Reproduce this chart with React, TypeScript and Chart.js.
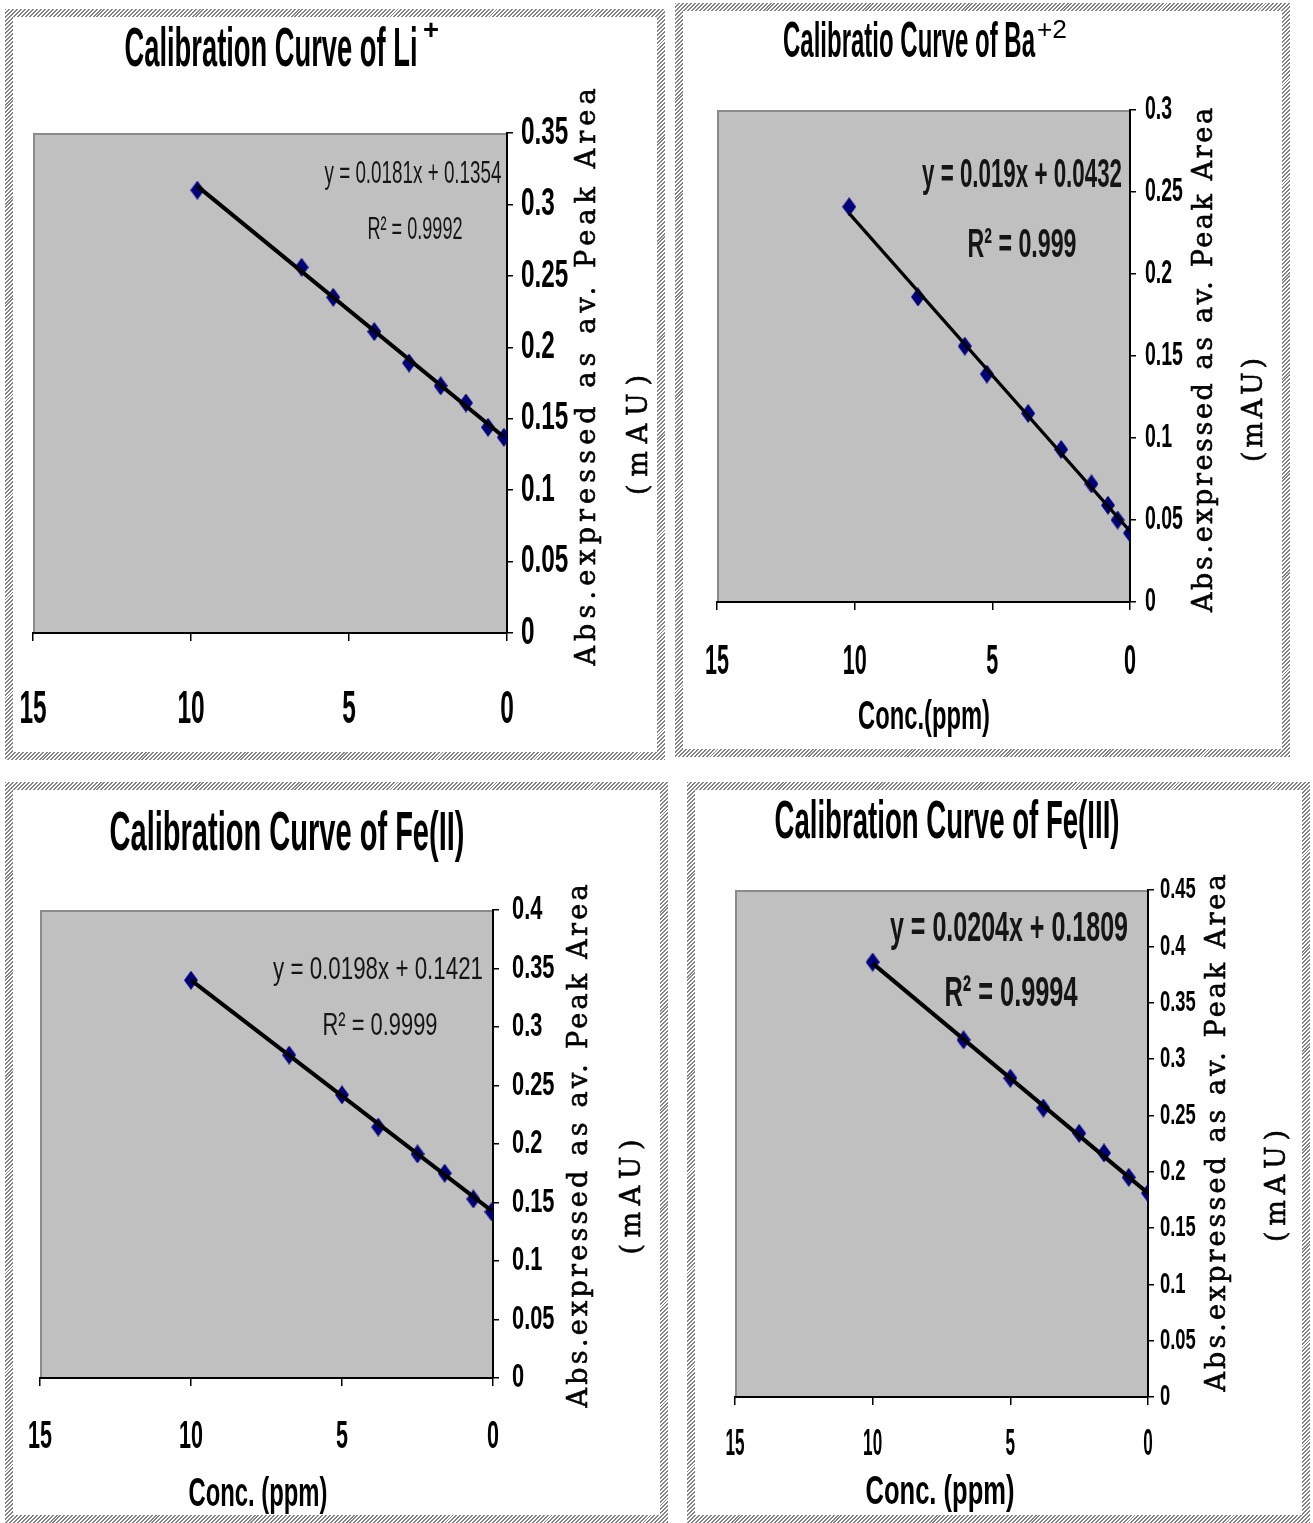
import React, { useEffect, useRef } from 'react';
import { Chart, registerables } from 'chart.js';

Chart.register(...registerables);

// ---------------- DATA ----------------
const liConc = [9.8, 6.5, 5.5, 4.2, 3.1, 2.1, 1.3, 0.6, 0.1];
const liAbs = [0.31, 0.256, 0.235, 0.211, 0.189, 0.173, 0.161, 0.144, 0.137];

const baConc = [10.2, 7.7, 6.0, 5.2, 3.7, 2.5, 1.4, 0.8, 0.45, 0];
const baAbs = [0.241, 0.186, 0.156, 0.139, 0.115, 0.093, 0.072, 0.059, 0.05, 0.042];

const fe2Conc = [10, 6.75, 5, 3.8, 2.5, 1.6, 0.65, 0.05];
const fe2Abs = [0.34, 0.276, 0.242, 0.2145, 0.1915, 0.175, 0.153, 0.142];

const fe3Conc = [10, 6.7, 5, 3.8, 2.5, 1.6, 0.7, 0];
const fe3Abs = [0.386, 0.317, 0.283, 0.2565, 0.234, 0.2166, 0.195, 0.181];

const slopes = [0.0181, 0.019, 0.0198, 0.0204];
const intercepts = [0.1354, 0.0432, 0.1421, 0.1809];
const equationLabels = ['y = 0.0181x + 0.1354', 'y = 0.019x + 0.0432', 'y = 0.0198x + 0.1421', 'y = 0.0204x + 0.1809'];
const r2Labels = ['R\u00B2 = 0.9992', 'R\u00B2 = 0.999', 'R\u00B2 = 0.9999', 'R\u00B2 = 0.9994'];
const titleMain = ['Calibration Curve of Li', 'Calibratio Curve of Ba', 'Calibration Curve of Fe(II)', 'Calibration Curve of Fe(III)'];
const titleSup = ['+', '+2', '', ''];
const xTitles = ['', 'Conc.(ppm)', 'Conc. (ppm)', 'Conc. (ppm)'];
const yTitleLines = ['Abs.expressed as av. Peak Area', '(mAU)'];
const yMaxes = [0.35, 0.3, 0.4, 0.45];
const yStep = 0.05;
const xMin = 0;
const xMax = 15;
const xStep = 5;

const concSeries = [liConc, baConc, fe2Conc, fe3Conc];
const absSeries = [liAbs, baAbs, fe2Abs, fe3Abs];

// ---------------- LAYOUT (page coords) ----------------
type TextSpec = { x: number; y: number; w: number; font: string; sy?: number };
type Layout = {
  box: [number, number, number, number];
  plot: [number, number, number, number];
  yTickFont: number; yTickPad: number; ySx: number; ySy: number;
  xTickFont: number; xTickPad: number; xSx: number; xSy: number;
  title: TextSpec; sup?: TextSpec;
  eq: TextSpec; r2: TextSpec;
  yt1: TextSpec; yt2: TextSpec;
  xt?: TextSpec;
  lineW: number;
};

const SANS = '"Liberation Sans", Arial, sans-serif';
const SERIF = '"DejaVu Serif", "Liberation Serif", serif';
const YT_FONT = `27px ${SERIF}`;

const layouts: Layout[] = [
  {
    box: [5, 9, 665, 760], plot: [33, 133, 507, 633],
    yTickFont: 32, yTickPad: 8, ySx: 0.76, ySy: 1.22,
    xTickFont: 34, xTickPad: 52, xSx: 0.72, xSy: 1.38,
    title: { x: 271, y: 51, w: 293, font: `bold 50px ${SANS}`, sy: 1.1 },
    sup: { x: 431, y: 31, w: 16, font: `bold 28px ${SANS}` },
    eq: { x: 413, y: 174, w: 177, font: `30px ${SANS}`, sy: 1.05 },
    r2: { x: 415, y: 230, w: 95, font: `30px ${SANS}`, sy: 1.05 },
    yt1: { x: 588, y: 377, w: 577, font: YT_FONT },
    yt2: { x: 640, y: 435, w: 120, font: YT_FONT },
    lineW: 4,
  },
  {
    box: [675, 3, 1290, 757], plot: [717, 110, 1130, 602],
    yTickFont: 26, yTickPad: 9, ySx: 0.75, ySy: 1.3,
    xTickFont: 30, xTickPad: 37, xSx: 0.72, xSy: 1.4,
    title: { x: 909, y: 43, w: 252, font: `bold 46px ${SANS}`, sy: 1.1 },
    sup: { x: 1052, y: 31, w: 30, font: `26px ${SANS}` },
    eq: { x: 1022, y: 176, w: 200, font: `bold 38px ${SANS}`, sy: 1.08 },
    r2: { x: 1022, y: 246, w: 109, font: `bold 38px ${SANS}`, sy: 1.08 },
    yt1: { x: 1205, y: 360, w: 504, font: YT_FONT },
    yt2: { x: 1255, y: 410, w: 104, font: YT_FONT },
    xt: { x: 924, y: 718, w: 132, font: `bold 36px ${SANS}`, sy: 1.15 },
    lineW: 3.2,
  },
  {
    box: [5, 782, 668, 1523], plot: [40, 910, 493, 1378],
    yTickFont: 26, yTickPad: 13, ySx: 0.84, ySy: 1.3,
    xTickFont: 28, xTickPad: 37, xSx: 0.77, xSy: 1.4,
    title: { x: 287, y: 835, w: 355, font: `bold 50px ${SANS}`, sy: 1.1 },
    eq: { x: 378, y: 970, w: 210, font: `30px ${SANS}`, sy: 1.05 },
    r2: { x: 380, y: 1026, w: 115, font: `30px ${SANS}`, sy: 1.05 },
    yt1: { x: 580, y: 1146, w: 523, font: YT_FONT },
    yt2: { x: 633, y: 1197, w: 115, font: YT_FONT },
    xt: { x: 258, y: 1495, w: 139, font: `bold 36px ${SANS}`, sy: 1.15 },
    lineW: 4,
  },
  {
    box: [687, 782, 1310, 1523], plot: [735, 890, 1148, 1397],
    yTickFont: 23, yTickPad: 6, ySx: 0.8, ySy: 1.3,
    xTickFont: 26, xTickPad: 27, xSx: 0.66, xSy: 1.4,
    title: { x: 947, y: 823, w: 345, font: `bold 48px ${SANS}`, sy: 1.1 },
    eq: { x: 1009, y: 929, w: 238, font: `bold 40px ${SANS}`, sy: 1.08 },
    r2: { x: 1011, y: 994, w: 133, font: `bold 40px ${SANS}`, sy: 1.08 },
    yt1: { x: 1218, y: 1133, w: 517, font: YT_FONT },
    yt2: { x: 1278, y: 1186, w: 112, font: YT_FONT },
    xt: { x: 940, y: 1493, w: 149, font: `bold 36px ${SANS}`, sy: 1.15 },
    lineW: 4,
  },
];

const HATCH = 8;

function drawFit(
  ctx: CanvasRenderingContext2D, text: string, spec: TextSpec, ox: number, oy: number,
  opts: { rot?: number; spacing?: boolean; color?: string; stroke?: number } = {}
) {
  if (!text) return;
  ctx.save();
  ctx.translate(spec.x - ox, spec.y - oy);
  if (opts.rot) ctx.rotate(opts.rot);
  ctx.font = spec.font;
  ctx.fillStyle = opts.color || '#000';
  ctx.strokeStyle = opts.color || '#000';
  ctx.textBaseline = 'middle';
  const anyCtx = ctx as any;
  if ('letterSpacing' in anyCtx) anyCtx.letterSpacing = '0px';
  const m = ctx.measureText(text).width;
  if (opts.spacing && 'letterSpacing' in anyCtx && text.length > 1) {
    const ls = (spec.w - m) / (text.length - 1);
    anyCtx.letterSpacing = ls + 'px';
    ctx.textAlign = 'left';
    ctx.fillText(text, -spec.w / 2, 0);
    if (opts.stroke) {
      ctx.lineWidth = opts.stroke;
      ctx.strokeText(text, -spec.w / 2, 0);
    }
  } else {
    ctx.scale(spec.w / m, spec.sy || 1);
    ctx.textAlign = 'center';
    ctx.fillText(text, 0, 0);
  }
  ctx.restore();
}

function makeMarker(): HTMLCanvasElement {
  const c = document.createElement('canvas');
  c.width = 14;
  c.height = 19;
  const g = c.getContext('2d')!;
  g.fillStyle = '#00007a';
  g.beginPath();
  g.moveTo(7, 0);
  g.lineTo(14, 9.5);
  g.lineTo(7, 19);
  g.lineTo(0, 9.5);
  g.closePath();
  g.fill();
  return c;
}

function fmtY(v: number | string) {
  const n = Number(v);
  return parseFloat(n.toFixed(2)).toString();
}

function Panel({ idx }: { idx: number }) {
  const ref = useRef<HTMLCanvasElement>(null);
  const L = layouts[idx];
  const [bl, bt, br, bb] = L.box;
  const W = br - bl;
  const H = bb - bt;

  useEffect(() => {
    const canvas = ref.current;
    if (!canvas) return;
    const [pl, pt, pr, pb] = L.plot;
    const xs = concSeries[idx];
    const ys = absSeries[idx];
    const points = xs.map((x, i) => ({ x, y: ys[i] }));
    const lo = Math.min(...xs);
    const hi = Math.max(...xs);
    const trend = [lo, hi].map((x) => ({ x, y: slopes[idx] * x + intercepts[idx] }));
    const marker = makeMarker();

    // condensed tick labels: wrap fillText while the scales are being drawn
    const ctx2d = canvas.getContext('2d') as any;
    const state = { on: false };
    const origFill = ctx2d.fillText;
    ctx2d.fillText = function (text: string, x: number, y: number, mw?: number) {
      if (state.on) {
        const isY = this.textAlign === 'left';
        const sx = isY ? L.ySx : L.xSx;
        const sy = isY ? L.ySy : L.xSy;
        this.save();
        this.translate(x, y);
        this.scale(sx, sy);
        if (mw === undefined) origFill.call(this, text, 0, 0);
        else origFill.call(this, text, 0, 0, mw);
        this.restore();
        return;
      }
      if (mw === undefined) return origFill.call(this, text, x, y);
      return origFill.call(this, text, x, y, mw);
    };

    const decor = {
      id: 'decor' + idx,
      beforeDraw(chart: any) {
        const { ctx, chartArea: a } = chart;
        ctx.save();
        ctx.fillStyle = '#c0c0c0';
        ctx.fillRect(a.left, a.top, a.right - a.left, a.bottom - a.top);
        ctx.strokeStyle = '#8a8a8a';
        ctx.lineWidth = 2;
        ctx.beginPath();
        ctx.moveTo(a.left + 1, a.bottom);
        ctx.lineTo(a.left + 1, a.top + 1);
        ctx.lineTo(a.right, a.top + 1);
        ctx.stroke();
        ctx.restore();
        state.on = true;
      },
      beforeDatasetsDraw() {
        state.on = false;
      },
      afterDraw(chart: any) {
        state.on = false;
        const ctx = chart.ctx as CanvasRenderingContext2D;
        drawFit(ctx, titleMain[idx], L.title, bl, bt);
        if (L.sup) drawFit(ctx, titleSup[idx], L.sup, bl, bt);
        drawFit(ctx, equationLabels[idx], L.eq, bl, bt, { color: '#151515' });
        drawFit(ctx, r2Labels[idx], L.r2, bl, bt, { color: '#151515' });
        drawFit(ctx, yTitleLines[0], L.yt1, bl, bt, { rot: -Math.PI / 2, spacing: true, stroke: 0.6 });
        drawFit(ctx, yTitleLines[1], L.yt2, bl, bt, { rot: -Math.PI / 2, spacing: true, stroke: 0.6 });
        if (L.xt) drawFit(ctx, xTitles[idx], L.xt, bl, bt);
      },
    };

    const yAxisW = br - pr;
    const xAxisH = bb - pb;

    const chart = new Chart(canvas, {
      type: 'scatter',
      data: {
        datasets: [
          {
            type: 'line',
            data: trend,
            borderColor: '#000',
            borderWidth: L.lineW,
            pointRadius: 0,
            fill: false,
            showLine: true,
          } as any,
          {
            data: points,
            pointStyle: marker as any,
            pointRadius: 8,
            backgroundColor: '#00007a',
            borderColor: '#00007a',
          },
        ],
      },
      options: {
        animation: false,
        responsive: false,
        maintainAspectRatio: false,
        events: [],
        layout: { padding: { left: pl - bl, top: pt - bt, right: 0, bottom: 0 } },
        plugins: { legend: { display: false }, tooltip: { enabled: false }, title: { display: false } },
        scales: {
          x: {
            type: 'linear',
            position: 'bottom',
            reverse: true,
            min: xMin,
            max: xMax,
            ticks: {
              stepSize: xStep,
              color: '#000',
              padding: L.xTickPad,
              maxRotation: 0,
              font: { family: SANS, size: L.xTickFont, weight: 'bold', lineHeight: 1 },
            },
            grid: { drawOnChartArea: false, drawTicks: true, tickLength: 8, color: '#000', lineWidth: 1.5 },
            border: { display: true, color: '#000', width: 2 },
            afterFit(scale: any) {
              scale.height = xAxisH;
              scale.paddingLeft = 0;
              scale.paddingRight = 0;
            },
          },
          y: {
            type: 'linear',
            position: 'right',
            min: 0,
            max: yMaxes[idx],
            ticks: {
              stepSize: yStep,
              color: '#000',
              padding: L.yTickPad,
              callback: (v: any) => fmtY(v),
              font: { family: SANS, size: L.yTickFont, weight: 'bold', lineHeight: 1 },
            },
            grid: { drawOnChartArea: false, drawTicks: true, tickLength: 6, color: '#000', lineWidth: 1.5 },
            border: { display: true, color: '#000', width: 2 },
            afterFit(scale: any) {
              scale.width = yAxisW;
              scale.paddingTop = 0;
              scale.paddingBottom = 0;
            },
          },
        },
      } as any,
      plugins: [decor],
    });
    return () => {
      chart.destroy();
      ctx2d.fillText = origFill;
    };
  }, []);

  return (
    <div
      style={{
        position: 'absolute',
        left: bl,
        top: bt,
        width: W,
        height: H,
        background: 'repeating-linear-gradient(135deg, #848484 0px, #848484 1.4px, #ffffff 1.4px, #ffffff 2.8px)',
      }}
    >
      <div style={{ position: 'absolute', left: HATCH, top: HATCH, right: HATCH, bottom: HATCH, background: '#fff' }} />
      <canvas
        ref={ref}
        width={W}
        height={H}
        style={{ position: 'absolute', left: 0, top: 0, width: W, height: H }}
      />
    </div>
  );
}

export default function App() {
  return (
    <div
      style={{
        position: 'absolute',
        left: 0,
        top: 0,
        width: 1313,
        height: 1523,
        background: '#fff',
        overflow: 'hidden',
      }}
    >
      {[0, 1, 2, 3].map((i) => (
        <Panel key={i} idx={i} />
      ))}
    </div>
  );
}
